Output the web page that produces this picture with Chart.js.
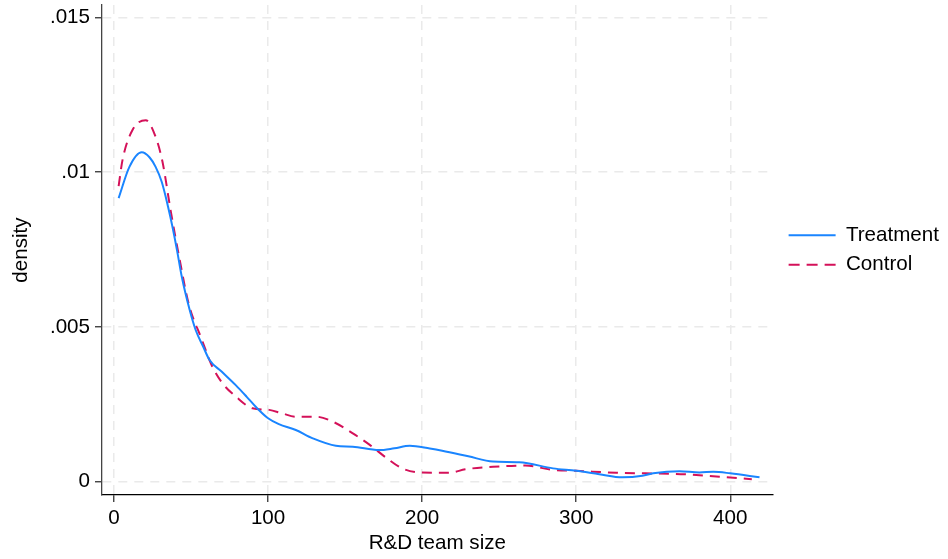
<!DOCTYPE html>
<html>
<head>
<meta charset="utf-8">
<script src="https://cdn.jsdelivr.net/npm/chart.js@4"></script>
<style>
  body { margin: 0; background: #fff; }
</style>
</head>
<body>
<canvas id="densityChart" width="948" height="559"></canvas>
<script>
// valores (kernel density)
const treatmentX = [3, 10, 18, 23, 27, 31, 35, 38, 41, 44, 49, 53, 58, 62, 70, 79, 86, 92, 100, 107, 118, 129, 144, 155, 172, 182, 192, 205, 213, 230, 246, 263, 285, 300, 315, 330, 343, 350, 367, 380, 389, 400, 419];
const treatmentY = [0.00916, 0.01017, 0.01064, 0.01048, 0.01017, 0.00968, 0.0089, 0.00822, 0.00745, 0.00662, 0.00557, 0.0049, 0.00435, 0.00393, 0.00355, 0.00312, 0.00275, 0.00242, 0.00205, 0.00186, 0.00167, 0.0014, 0.00116, 0.00113, 0.00102, 0.00108, 0.00116, 0.00107, 0.001, 0.00082, 0.00065, 0.00063, 0.00043, 0.00035, 0.00024, 0.00014, 0.00019, 0.00027, 0.00034, 0.0003, 0.00032, 0.00027, 0.00014];

const controlX = [3, 5.5, 12, 20.6, 27, 31.4, 36.8, 42.2, 48.7, 56.3, 63.9, 70.4, 79.1, 89.9, 100.7, 109, 118, 131, 142, 155, 166, 177, 187, 198, 210, 218, 228, 246, 267, 285, 300, 326, 345, 371, 393, 414];
const controlY = [0.00955, 0.01039, 0.01136, 0.01168, 0.01114, 0.01035, 0.00875, 0.00728, 0.0057, 0.00468, 0.00371, 0.00318, 0.00275, 0.00237, 0.00232, 0.00221, 0.0021, 0.0021, 0.00194, 0.00156, 0.00119, 0.00076, 0.00043, 0.0003, 0.00029, 0.00029, 0.0004, 0.00048, 0.00052, 0.00038, 0.00035, 0.00029, 0.00027, 0.00024, 0.00016, 0.00008];

const xTicks = [0, 100, 200, 300, 400];
const yTicks = [0, 0.005, 0.01, 0.015];
const yTickLabels = ['0', '.005', '.01', '.015'];

const seriesNames = ['Treatment', 'Control'];

const toPoints = (xs, ys) => xs.map((x, i) => ({x: x, y: ys[i]}));

const fonte = { family: "'Liberation Sans', Arial, sans-serif", size: 20.6 };
const gridStyle = { color: '#eaeaea', lineWidth: 1.5, drawTicks: true, tickLength: 7, tickColor: '#333', tickWidth: 1.3 };

// legenda: um pouco mais à direita e centrada na área do gráfico, como no original
const legendShift = {
    id: 'legendShift',
    afterLayout(chart) {
        const lg = chart.legend;
        lg.left += 7;
        lg.right += 7;
        lg.top = chart.chartArea.top;
        lg.bottom = chart.chartArea.bottom;
        lg.height = lg.bottom - lg.top;
    }
};

const ctx = document.getElementById('densityChart').getContext('2d');
const densityChart = new Chart(ctx, {
    type: 'scatter',
    data: {
        datasets: [{
            label: seriesNames[0],
            data: toPoints(treatmentX, treatmentY),
            borderColor: '#1a85ff',
            backgroundColor: '#1a85ff',
            borderWidth: 2,
            showLine: true,
            pointRadius: 0,
            cubicInterpolationMode: 'monotone'
        }, {
            label: seriesNames[1],
            data: toPoints(controlX, controlY),
            borderColor: '#d41159',
            backgroundColor: '#d41159',
            borderWidth: 2,
            borderDash: [10, 7],
            showLine: true,
            pointRadius: 0,
            cubicInterpolationMode: 'monotone'
        }]
    },
    options: {
        responsive: false,
        animation: false,
        devicePixelRatio: 1,
        layout: { padding: { top: 5, right: 6, bottom: 0, left: 0 } },
        plugins: {
            tooltip: { enabled: false },
            legend: {
                position: 'right',
                align: 'center',
                labels: {
                    usePointStyle: true,
                    pointStyle: 'line',
                    pointStyleWidth: 47,
                    padding: 9,
                    color: '#000',
                    font: fonte,
                    // com pointStyle o tracejado do dataset se perde, então repõe aqui
                    generateLabels: (chart) => Chart.defaults.plugins.legend.labels.generateLabels(chart).map((item, i) => {
                        const ds = chart.data.datasets[i];
                        item.lineDash = ds.borderDash ? [11, 7] : [];
                        item.lineWidth = ds.borderWidth;
                        item.strokeStyle = ds.borderColor;
                        return item;
                    })
                }
            }
        },
        scales: {
            x: {
                type: 'linear',
                min: -7.8,
                max: 427.5,
                afterBuildTicks: (scale) => { scale.ticks = xTicks.map(v => ({value: v})); },
                afterFit: (scale) => { scale.height = 64; },
                ticks: { color: '#000', font: fonte, padding: 4, maxRotation: 0 },
                grid: gridStyle,
                border: { display: true, color: '#000', width: 1.3, dash: [9, 7] },
                title: { display: true, text: 'R&D team size', color: '#000', font: fonte, padding: { top: 0, bottom: 3 } }
            },
            y: {
                type: 'linear',
                min: -0.00043,
                max: 0.0154,
                afterBuildTicks: (scale) => { scale.ticks = yTicks.map(v => ({value: v})); },
                afterFit: (scale) => {
                    scale.width = 102;
                    scale.paddingTop = 0;
                    scale.paddingBottom = 0;
                },
                ticks: {
                    color: '#000',
                    font: fonte,
                    padding: 5,
                    callback: (value) => yTickLabels[yTicks.indexOf(value)]
                },
                grid: gridStyle,
                border: { display: true, color: '#444', width: 1.3, dash: [9, 7] },
                title: { display: true, text: 'density', color: '#000', font: fonte, padding: { top: 9, bottom: 0 } }
            }
        }
    },
    plugins: [legendShift]
});
</script>
</body>
</html>
